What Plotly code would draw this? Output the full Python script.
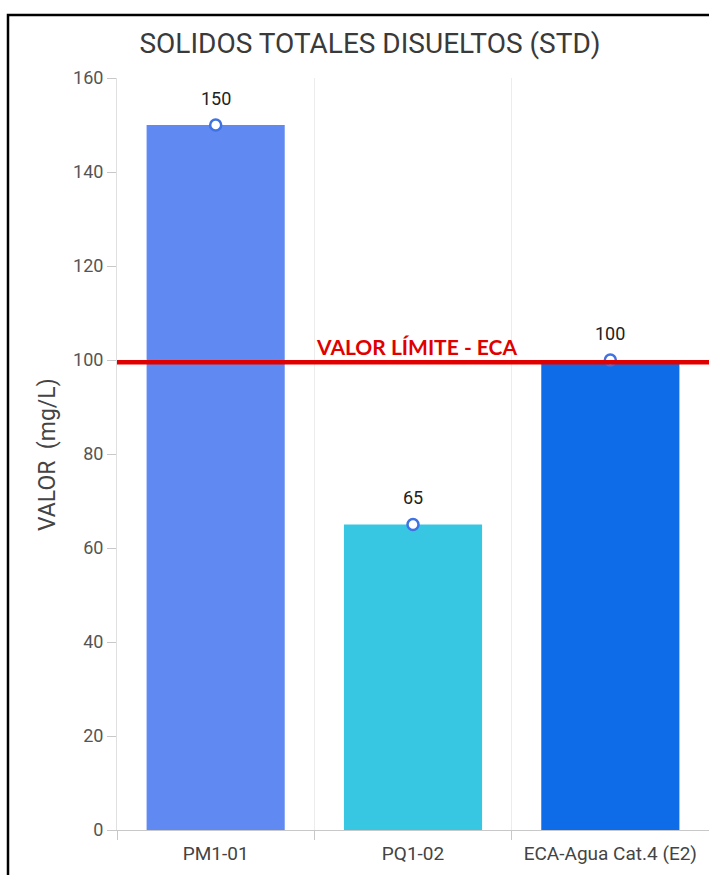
import plotly.graph_objects as go

# Data
stations = ["PM1-01", "PQ1-02", "ECA-Agua Cat.4 (E2)"]
std_values = [150, 65, 100]
bar_colors = ["#6089f1", "#37c7e3", "#0f6ce9"]
limit_value = 99.5
limit_label = "VALOR LÍMITE - ECA"
y_ticks = [0, 20, 40, 60, 80, 100, 120, 140, 160]

W, H = 709, 875
L, R, T, B = 117, 0, 78, 45
pw, ph = W - L - R, H - T - B

fig = go.Figure()

fig.add_trace(go.Bar(
    x=stations, y=std_values,
    marker=dict(color=bar_colors, line=dict(width=0)),
    width=0.7, hoverinfo="skip", showlegend=False,
))

fig.add_trace(go.Scatter(
    x=stations, y=std_values,
    mode="markers",
    marker=dict(size=11, color="white", line=dict(color="#3f72e2", width=2.5)),
    showlegend=False, cliponaxis=False, hoverinfo="skip",
))

# Value labels above each point
for st, v in zip(stations, std_values):
    fig.add_annotation(x=st, y=v, text=str(v), showarrow=False,
                       yshift=27, xanchor="center", yanchor="middle",
                       font=dict(family="Roboto", size=18, color="#222222"))

# Limit line
fig.add_shape(type="line", xref="paper", yref="y", x0=0, x1=1,
              y0=limit_value, y1=limit_value,
              line=dict(color="#e00000", width=4.5), layer="above")

fig.add_annotation(text=f"<b>{limit_label}</b>", xref="paper", yref="y",
                   x=(416 - L) / pw, y=(H - B - 346) / (ph / 160),
                   showarrow=False, xanchor="center", yanchor="middle",
                   font=dict(family="Lato", size=21, color="#e00000"))

# Y axis title
fig.add_annotation(text="VALOR  (mg/L)", xref="paper", yref="paper",
                   x=(47 - L) / pw, y=(H - B - 455) / ph, textangle=-90,
                   showarrow=False, xanchor="center", yanchor="middle",
                   font=dict(family="Roboto", size=23, color="#444444"))

# Frame
fig.add_shape(type="rect", xref="paper", yref="paper",
              x0=(8 - L) / pw, x1=1.02, y0=-0.2, y1=(H - B - 15) / ph,
              line=dict(color="black", width=2.5), fillcolor="rgba(0,0,0,0)",
              layer="above")

fig.update_layout(
    width=W, height=H,
    margin=dict(l=L, r=R, t=T, b=B),
    paper_bgcolor="white", plot_bgcolor="white",
    title=dict(text="SOLIDOS TOTALES DISUELTOS (STD)", xref="paper",
               x=(370 - L) / pw, xanchor="center",
               yref="container", y=1 - 43 / H, yanchor="middle",
               font=dict(family="Roboto", size=28, color="#3a3a3a")),
    xaxis=dict(
        showgrid=True, gridcolor="#ececec", gridwidth=1,
        tickson="boundaries", ticks="outside", ticklen=9,
        tickcolor="#c8c8c8", showline=True, linecolor="#c8c8c8",
        tickfont=dict(family="Roboto", size=19, color="#444444"),
        ticklabelstandoff=6,
        range=[-0.5, 2.5],
    ),
    yaxis=dict(
        range=[0, 160], tickvals=y_ticks, showgrid=False,
        ticks="outside", ticklen=9, tickcolor="#c8c8c8",
        showline=True, linecolor="#e0e0e0", zeroline=False,
        tickfont=dict(family="Roboto", size=18, color="#555555"),
    ),
)

fig.write_html("out.html")
